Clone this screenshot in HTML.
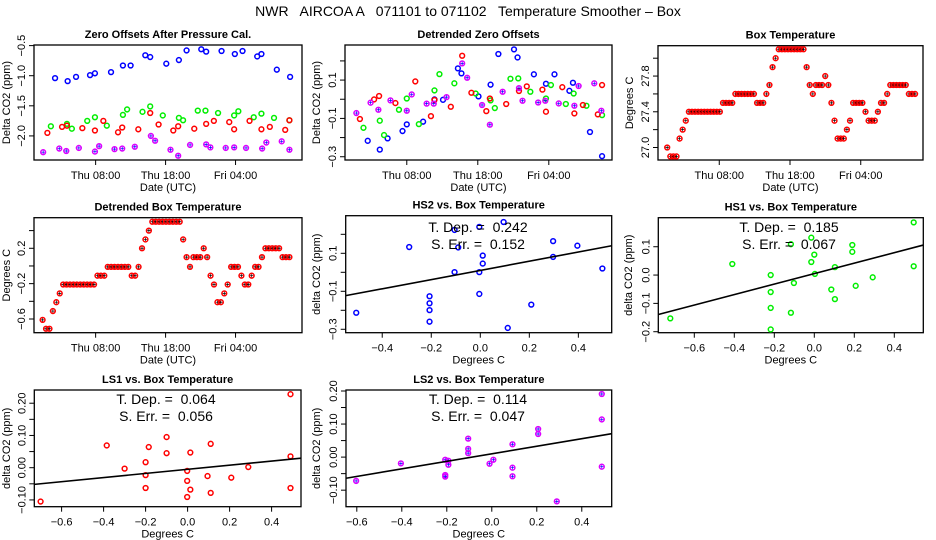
<!DOCTYPE html>
<html><head><meta charset="utf-8"><style>
html,body{margin:0;padding:0;background:#fff}
svg{display:block;font-family:"Liberation Sans",sans-serif}
svg text{white-space:pre}
</style></head><body>
<svg id="chart" width="936" height="540" viewBox="0 0 936 540" xmlns="http://www.w3.org/2000/svg" xml:space="preserve">
<rect width="936" height="540" fill="#fff"/>
<text x="468" y="16" text-anchor="middle" font-size="14">NWR   AIRCOA A   071101 to 071102   Temperature Smoother – Box</text>
</svg>
<script>
// ---------- DATA ----------
const zoBlueH=[2.2,4.0,5.2,7.2,7.9,10.2,11.9,13.0,15.1,15.8,18.1,19.9,21.0,23.1,23.8,26.0,27.9,29.0,31.1,31.7,33.9,35.8];
const zoBlueV=[-1.04,-1.09,-1.02,-0.99,-0.96,-0.94,-0.83,-0.83,-0.66,-0.69,-0.80,-0.74,-0.58,-0.56,-0.60,-0.59,-0.64,-0.59,-0.68,-0.64,-0.90,-1.02];
const zoGreenH=[1.6,3.9,4.6,6.8,7.9,9.6,11.9,12.5,14.7,15.8,17.6,19.9,20.5,22.6,23.7,25.5,27.8,28.4,30.6,31.7,33.5,35.7];
const zoGreenV=[-1.84,-1.80,-1.88,-1.75,-1.69,-1.83,-1.65,-1.56,-1.60,-1.51,-1.66,-1.70,-1.74,-1.58,-1.58,-1.62,-1.66,-1.59,-1.69,-1.63,-1.70,-1.74];
const zoRedH=[1.1,3.2,3.9,6.1,7.9,9.1,11.2,11.8,14.1,15.8,17.0,19.1,19.8,22.1,23.8,24.9,27.1,27.8,30.0,31.7,32.9,35.1,35.7];
const zoRedV=[-1.95,-1.85,-1.83,-1.87,-1.91,-1.75,-1.94,-1.86,-1.89,-1.62,-1.81,-1.91,-1.84,-1.88,-1.80,-1.75,-1.77,-1.89,-1.75,-1.89,-1.85,-1.90,-1.74];
const zoPurpH=[0.5,2.8,3.8,5.6,7.9,8.5,10.7,11.8,13.6,15.9,16.5,18.7,19.8,21.5,23.8,24.4,26.6,27.8,29.5,31.8,32.4,34.6,35.7];
const zoPurpV=[-2.27,-2.21,-2.25,-2.20,-2.26,-2.17,-2.22,-2.21,-2.18,-2.00,-2.08,-2.23,-2.33,-2.15,-2.14,-2.19,-2.20,-2.19,-2.20,-2.21,-2.11,-2.09,-2.23];
const dzBlueH=[2.5,4.2,5.3,7.4,8.0,10.3,11.9,13.1,15.2,15.7,18.1,19.8,20.9,23.1,23.6,25.9,27.6,28.8,30.9,31.4,33.8,35.5];
const dzBlueV=[-0.217,-0.263,-0.204,-0.166,-0.131,-0.117,-0.001,-0.003,0.161,0.135,0.015,0.076,0.236,0.260,0.218,0.130,0.081,0.130,0.044,0.086,-0.171,-0.297];
const dzGreenH=[1.9,4.2,4.8,6.9,8.0,9.7,11.9,12.6,14.7,17.7,19.8,20.4,22.6,23.7,25.4,27.6,28.3,30.4,31.5,33.3,35.5];
const dzGreenV=[-0.149,-0.112,-0.187,-0.055,0.004,-0.130,0.046,0.131,0.083,0.030,-0.006,-0.046,0.107,0.109,0.039,0.004,0.074,-0.025,0.030,-0.034,-0.083];
const dzRedH=[1.4,3.4,4.1,6.4,9.2,11.4,11.9,14.2,15.8,17.1,19.2,19.7,22.0,23.8,24.9,27.1,27.6,29.9,31.6,32.8,34.9,35.5];
const dzRedV=[-0.103,-0.001,0.017,-0.020,0.093,-0.088,-0.004,-0.039,0.227,0.034,-0.062,0.004,-0.025,0.043,0.067,0.050,-0.065,0.063,-0.074,-0.030,-0.079,0.074];
const dzPurpH=[0.9,2.9,4.0,5.7,8.0,8.7,10.8,11.8,13.6,15.8,16.5,18.6,19.7,21.5,23.8,24.3,26.5,27.5,29.4,31.6,32.2,34.4,35.4];
const dzPurpV=[-0.072,-0.018,-0.055,-0.006,-0.060,0.025,-0.023,-0.023,0.011,0.187,0.112,-0.030,-0.133,0.039,0.058,-0.008,-0.017,-0.008,-0.022,-0.034,0.069,0.083,-0.060];
const boxStartHour=0.64, boxStepHour=0.438;
const boxTemp=[27.0,26.9,26.9,26.9,27.1,27.2,27.3,27.4,27.4,27.4,27.4,27.4,27.4,27.4,27.4,27.4,27.4,27.4,27.5,27.5,27.5,27.5,27.6,27.6,27.6,27.6,27.6,27.6,27.6,27.5,27.5,27.5,27.6,27.7,27.9,28.0,28.1,28.1,28.1,28.1,28.1,28.1,28.1,28.1,28.1,27.9,27.7,27.6,27.7,27.7,27.7,27.8,27.7,27.5,27.3,27.1,27.1,27.1,27.2,27.3,27.5,27.5,27.5,27.5,27.4,27.3,27.3,27.3,27.4,27.5,27.5,27.6,27.7,27.7,27.7,27.7,27.7,27.7,27.6,27.6,27.6];
const dbStartHour=0.42, dbStepHour=0.49;
const dbTemp=[-0.61,-0.71,-0.71,-0.51,-0.41,-0.31,-0.21,-0.21,-0.21,-0.21,-0.21,-0.21,-0.21,-0.21,-0.21,-0.21,-0.11,-0.11,-0.11,-0.01,-0.01,-0.01,-0.01,-0.01,-0.01,-0.01,-0.11,-0.11,-0.01,0.2,0.3,0.4,0.5,0.5,0.5,0.5,0.5,0.5,0.5,0.5,0.5,0.3,0.1,-0.01,0.1,0.1,0.1,0.2,0.1,-0.11,-0.21,-0.41,-0.41,-0.31,-0.21,-0.01,-0.01,-0.01,-0.11,-0.21,-0.21,-0.11,-0.01,-0.01,0.1,0.2,0.2,0.2,0.2,0.2,0.1,0.1,0.1];
const hs2X=[-0.506,-0.290,-0.207,-0.207,-0.207,-0.207,-0.105,-0.105,-0.090,-0.004,-0.004,-0.004,0.010,0.010,0.095,0.112,0.208,0.297,0.297,0.396,0.498];
const hs2Y=[-0.213,0.133,-0.126,-0.163,-0.199,-0.260,0.223,0.001,0.131,0.239,0.001,-0.114,0.088,0.046,0.265,-0.293,-0.170,0.164,0.081,0.140,0.020];
const hs2Fit=[0.242,0.01], hs2Txt=["T. Dep. =  0.242","S. Err. =  0.152"];
const hs1X=[-0.72,-0.41,-0.218,-0.218,-0.218,-0.218,-0.117,-0.117,-0.102,-0.015,-0.015,0.0,0.003,0.085,0.103,0.103,0.19,0.19,0.207,0.292,0.497,0.497];
const hs1Y=[-0.153,0.039,0,-0.06,-0.116,-0.192,0.109,-0.133,-0.028,0.046,0.132,0.072,0.004,-0.051,0.028,-0.085,0.106,0.082,-0.038,-0.008,0.186,0.031];
const hs1Fit=[0.185,0.005], hs1Txt=["T. Dep. =  0.185","S. Err. =  0.067"];
const ls1X=[-0.70,-0.385,-0.30,-0.20,-0.20,-0.20,-0.185,-0.10,-0.10,-0.002,-0.002,-0.002,0.013,0.013,0.095,0.11,0.11,0.208,0.289,0.49,0.49,0.49];
const ls1Y=[-0.105,0.069,-0.003,0.017,-0.023,-0.063,0.064,0.095,0.045,-0.010,-0.041,-0.091,0.047,-0.068,-0.026,0.074,-0.078,-0.031,0.002,0.228,0.035,-0.063];
const ls1Fit=[0.064,-0.005], ls1Txt=["T. Dep. =  0.064","S. Err. =  0.056"];
const ls2X=[-0.603,-0.404,-0.207,-0.207,-0.207,-0.193,-0.193,-0.105,-0.105,-0.105,-0.010,0.007,0.092,0.092,0.092,0.206,0.206,0.289,0.489,0.489,0.489];
const ls2Y=[-0.072,-0.019,-0.008,-0.054,-0.059,-0.011,-0.023,0.056,0.025,0.012,-0.020,-0.008,-0.032,-0.058,0.039,0.085,0.070,-0.134,0.191,0.114,-0.029];
const ls2Fit=[0.114,0.01], ls2Txt=["T. Dep. =  0.114","S. Err. =  0.047"];
const timeTicks=[8,18,28], timeTickLabels=["Thu 08:00","Thu 18:00","Fri 04:00"];

// ---------- RENDER ----------
const NS="http://www.w3.org/2000/svg";
const svg=document.getElementById('chart');
const BLUE="#0000ff",GREEN="#00ee00",RED="#ff0000",PURP="#dd00ff";
function el(tag,attrs,parent){const e=document.createElementNS(NS,tag);for(const k in attrs)e.setAttribute(k,attrs[k]);(parent||svg).appendChild(e);return e;}
function fmt(v,d){const s=Math.abs(v).toFixed(d);return (v<-1e-9?"\u2212":"")+s;}
function makePanel(cfg){
  const g=el('g',{});
  
  
  const sx=v=>cfg.x0+(v-cfg.xd[0])/(cfg.xd[1]-cfg.xd[0])*(cfg.x1-cfg.x0);
  const sy=v=>cfg.y1-(v-cfg.yd[0])/(cfg.yd[1]-cfg.yd[0])*(cfg.y1-cfg.y0);
  const fr=el('rect',{x:cfg.x0,y:cfg.y0,width:cfg.x1-cfg.x0,height:cfg.y1-cfg.y0,fill:'none',stroke:'#000','stroke-width':1.3},g);
  
  
  const t=el('text',{x:(cfg.x0+cfg.x1)/2,y:cfg.y0-7,'text-anchor':'middle','font-size':11,'font-weight':'bold'},g);
  t.textContent=cfg.title;
  
  
  cfg.xt.forEach((v,i)=>{const x=sx(v);
    el('line',{x1:x,x2:x,y1:cfg.y1,y2:cfg.y1+5,stroke:'#000'},g);
    const lb=el('text',{x:x,y:cfg.y1+19,'text-anchor':'middle','font-size':11},g);
    lb.textContent=cfg.xl[i];
    
    });
  cfg.yt.forEach((v,i)=>{const y=sy(v);
    el('line',{x1:cfg.x0-5,x2:cfg.x0,y1:y,y2:y,stroke:'#000'},g);
    if(cfg.yl[i]){const lx=cfg.x0-9;
      const lb=el('text',{x:lx,y:y,'text-anchor':'middle','font-size':11,transform:`rotate(-90 ${lx} ${y})`},g);
      lb.textContent=cfg.yl[i];
      
      }});
  const xl=el('text',{x:(cfg.x0+cfg.x1)/2,y:cfg.y1+31,'text-anchor':'middle','font-size':11},g);
  xl.textContent=cfg.xlab;
  
  
  const yx=cfg.ylx, yy=(cfg.y0+cfg.y1)/2;
  const yl=el('text',{x:yx,y:yy,'text-anchor':'middle','font-size':11,transform:`rotate(-90 ${yx} ${yy})`},g);
  yl.textContent=cfg.ylab;
  
  
  return {g,sx,sy};
}
function points(p,xs,ys,color,nm,cross){
  xs.forEach((xv,i)=>{const cx=p.sx(xv),cy=p.sy(ys[i]);
    const c=el('circle',{cx:cx,cy:cy,r:2.4,fill:'none',stroke:color,'stroke-width':1.5},p.g);
    
    
    if(cross){el('path',{d:`M${cx-1.6} ${cy}h3.2M${cx} ${cy-1.6}v3.2`,stroke:cross,'stroke-width':0.7},p.g);}
  });
}
function fitLine(p,fit,xd,txt,tx,ty){
  const l=el('line',{x1:p.sx(xd[0]),y1:p.sy(fit[1]+fit[0]*xd[0]),x2:p.sx(xd[1]),y2:p.sy(fit[1]+fit[0]*xd[1]),stroke:'#000','stroke-width':1.6},p.g);
  
  
  txt.forEach((s,i)=>{const t=el('text',{x:tx,y:ty+i*17,'text-anchor':'middle','font-size':14},p.g);
    t.textContent=s;
    
    });
}
function ticks(a,b,s){const r=[];for(let v=a;v<=b+1e-9;v+=s)r.push(Math.round(v*1000)/1000);return r;}
const degT=ticks(-0.6,0.4,0.2), degL=degT.map(v=>fmt(v,1));
const hs2XT=ticks(-0.4,0.4,0.2);

let p=makePanel({name:'zero-offsets-panel',title:'Zero Offsets After Pressure Cal.',x0:34,x1:302,y0:45,y1:160,xd:[-0.81,37.5],yd:[-2.4,-0.49],
  xt:timeTicks,xl:timeTickLabels,yt:[-2.0,-1.5,-1.0,-0.5],yl:["\u22122.0","\u22121.5","\u22121.0","\u22120.5"],xlab:'Date (UTC)',ylab:'Delta CO2 (ppm)',ylx:10});
points(p,zoBlueH,zoBlueV,BLUE,'hs2-point');points(p,zoGreenH,zoGreenV,GREEN,'hs1-point');points(p,zoRedH,zoRedV,RED,'ls1-point');points(p,zoPurpH,zoPurpV,PURP,'ls2-point',BLUE);
const t2=ticks(-0.3,0.2,0.1);
p=makePanel({name:'detrended-zero-offsets-panel',title:'Detrended Zero Offsets',x0:345,x1:612,y0:45,y1:160,xd:[-0.7,36.9],yd:[-0.317,0.283],
  xt:timeTicks,xl:timeTickLabels,yt:t2,yl:t2.map(v=>[-0.3,-0.1,0.1].some(w=>Math.abs(w-v)<1e-6)?fmt(v,1):''),xlab:'Date (UTC)',ylab:'Delta CO2 (ppm)',ylx:320});
points(p,dzBlueH,dzBlueV,BLUE,'hs2-point');points(p,dzGreenH,dzGreenV,GREEN,'hs1-point');points(p,dzRedH,dzRedV,RED,'ls1-point');points(p,dzPurpH,dzPurpV,PURP,'ls2-point',BLUE);
const t3=ticks(27.0,28.0,0.2);
p=makePanel({name:'box-temperature-panel',title:'Box Temperature',x0:658,x1:923,y0:45.7,y1:160,xd:[-0.66,36.8],yd:[26.86,28.14],
  xt:timeTicks,xl:timeTickLabels,yt:t3,yl:t3.map(v=>[27.0,27.4,27.8].some(w=>Math.abs(w-v)<1e-6)?v.toFixed(1):''),xlab:'Date (UTC)',ylab:'Degrees C',ylx:633});
points(p,boxTemp.map((v,i)=>boxStartHour+i*boxStepHour),boxTemp,RED,'box-temp-point','#000');
const t4=ticks(-0.6,0.4,0.2);
p=makePanel({name:'detrended-box-temperature-panel',title:'Detrended Box Temperature',x0:34,x1:302,y0:217.7,y1:332.7,xd:[-0.81,37.5],yd:[-0.755,0.546],
  xt:timeTicks,xl:timeTickLabels,yt:t4,yl:t4.map(v=>[-0.6,-0.2,0.2].some(w=>Math.abs(w-v)<1e-6)?fmt(v,1):''),xlab:'Date (UTC)',ylab:'Degrees C',ylx:10});
points(p,dbTemp.map((v,i)=>dbStartHour+i*dbStepHour),dbTemp,RED,'detrended-temp-point','#000');
const t5=ticks(-0.3,0.2,0.1);
p=makePanel({name:'hs2-vs-box-panel',title:'HS2 vs. Box Temperature',x0:345.7,x1:611.7,y0:215.7,y1:332.7,xd:[-0.549,0.536],yd:[-0.318,0.298],
  xt:hs2XT,xl:hs2XT.map(v=>fmt(v,1)),yt:t5,yl:t5.map(v=>[-0.3,-0.1,0.1].some(w=>Math.abs(w-v)<1e-6)?fmt(v,1):''),xlab:'Degrees C',ylab:'delta CO2 (ppm)',ylx:320});
points(p,hs2X,hs2Y,BLUE,'hs2-point');
fitLine(p,hs2Fit,[-0.549,0.536],hs2Txt,478,232);
const t6=ticks(-0.2,0.1,0.1);
p=makePanel({name:'hs1-vs-box-panel',title:'HS1 vs. Box Temperature',x0:658.3,x1:923.3,y0:217.7,y1:332.7,xd:[-0.78,0.545],yd:[-0.2035,0.2025],
  xt:degT,xl:degL,yt:t6,yl:t6.map(v=>fmt(v,1)),xlab:'Degrees C',ylab:'delta CO2 (ppm)',ylx:632});
points(p,hs1X,hs1Y,GREEN,'hs1-point');
fitLine(p,hs1Fit,[-0.78,0.545],hs1Txt,789,232);
const t7=ticks(-0.1,0.2,0.05);
p=makePanel({name:'ls1-vs-box-panel',title:'LS1 vs. Box Temperature',x0:34.3,x1:301,y0:390,y1:506.7,xd:[-0.73,0.54],yd:[-0.121,0.241],
  xt:degT,xl:degL,yt:t7,yl:t7.map(v=>Math.abs(Math.round(v*10)-v*10)<1e-6?fmt(v,2):''),xlab:'Degrees C',ylab:'delta CO2 (ppm)',ylx:10});
points(p,ls1X,ls1Y,RED,'ls1-point');
fitLine(p,ls1Fit,[-0.73,0.54],ls1Txt,166,404);
p=makePanel({name:'ls2-vs-box-panel',title:'LS2 vs. Box Temperature',x0:346,x1:611.7,y0:390,y1:506.7,xd:[-0.648,0.533],yd:[-0.15,0.203],
  xt:degT,xl:degL,yt:t7,yl:t7.map(v=>Math.abs(Math.round(v*10)-v*10)<1e-6?fmt(v,2):''),xlab:'Degrees C',ylab:'delta CO2 (ppm)',ylx:320});
points(p,ls2X,ls2Y,PURP,'ls2-point',BLUE);
fitLine(p,ls2Fit,[-0.648,0.533],ls2Txt,478,404);
</script>
</body></html>
